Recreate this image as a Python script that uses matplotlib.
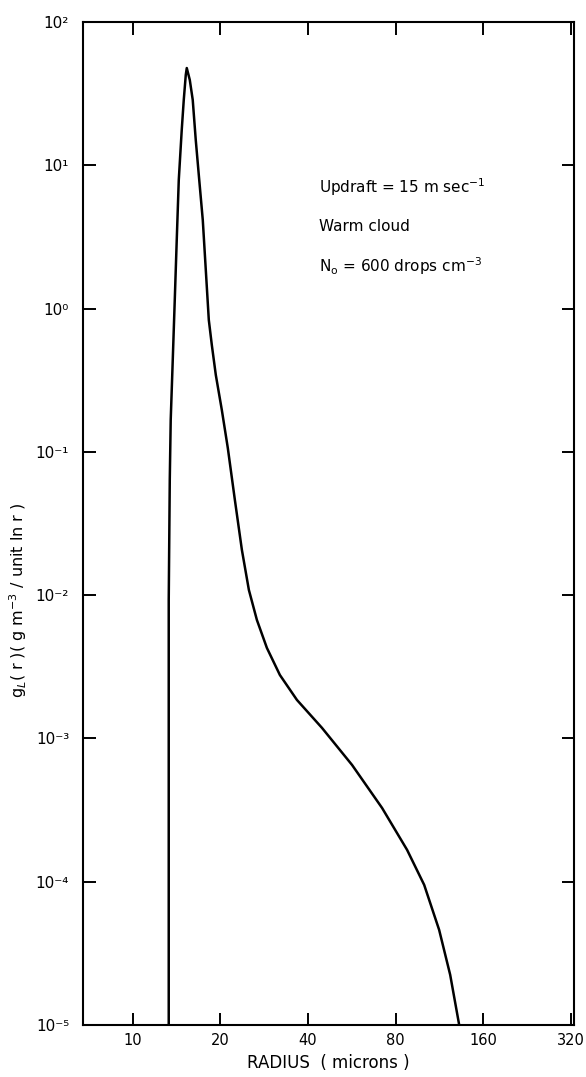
import numpy as np
import matplotlib
matplotlib.use('Agg')
import matplotlib.pyplot as plt
from matplotlib.ticker import FixedLocator, NullLocator

# Liquid water distribution g_L(r) (microns, g m^-3 per unit ln r)
radius = [13.30, 13.30, 13.41, 13.51, 13.73, 13.95, 14.17, 14.40, 14.74, 14.98,
          15.22, 15.34, 15.71, 16.08, 16.47, 16.87, 17.41, 17.83, 18.26, 18.70,
          19.30, 20.24, 21.22, 22.44, 23.72, 25.07, 26.71, 28.91, 32.04, 36.66,
          44.70, 56.69, 71.89, 87.62, 100.3, 112.9, 123.2, 132.3]
g_liquid = [1e-5, 9.26e-3, 0.0637, 0.167, 0.438, 1.148, 3.01, 7.90, 17.6, 28.6,
            42.7, 47.7, 39.4, 28.6, 15.0, 8.56, 4.15, 1.86, 0.833, 0.557,
            0.344, 0.196, 0.1065, 0.0462, 0.0207, 0.01087, 6.71e-3, 4.28e-3, 2.77e-3, 1.856e-3,
            1.184e-3, 6.53e-4, 3.27e-4, 1.667e-4, 9.50e-5, 4.61e-5, 2.24e-5, 1e-5]

x_ticks = [10, 20, 40, 80, 160, 320]
x_ticklabels = ['10', '20', '40', '80', '160', '320']
y_ticks = [1e-5, 1e-4, 1e-3, 1e-2, 1e-1, 1e0, 1e1, 1e2]
y_ticklabels = ['10⁻⁵', '10⁻⁴', '10⁻³', '10⁻²', '10⁻¹', '10⁰', '10¹', '10²']

notes = [r'Updraft = 15 m sec$^{-1}$',
         'Warm cloud',
         r'N$_{\mathrm{o}}$ = 600 drops cm$^{-3}$']

plt.rcParams['font.family'] = ['DejaVu Sans']
plt.rcParams['mathtext.fontset'] = 'dejavusans'

fig = plt.figure(figsize=(5.86, 10.77), dpi=100)
ax = fig.add_axes([0.1416, 0.0483, 0.8379, 0.9313])

ax.plot(radius, g_liquid, color='black', linewidth=1.8,
        solid_joinstyle='round', solid_capstyle='round')

ax.set_xscale('log')
ax.set_yscale('log')
ax.set_xlim(6.75, 328)
ax.set_ylim(1e-5, 1e2)

ax.xaxis.set_major_locator(FixedLocator(x_ticks))
ax.xaxis.set_minor_locator(NullLocator())
ax.set_xticklabels(x_ticklabels)
ax.yaxis.set_major_locator(FixedLocator(y_ticks))
ax.yaxis.set_minor_locator(NullLocator())
ax.set_yticklabels(y_ticklabels, fontsize=11)

ax.tick_params(axis='both', which='major', direction='in', length=9, width=1.4,
               top=True, right=True)
ax.tick_params(axis='x', pad=6, labelsize=10.5)
ax.tick_params(axis='y', pad=10)
for spine in ax.spines.values():
    spine.set_linewidth(1.5)

ax.set_xlabel('RADIUS  ( microns )', fontsize=12, labelpad=4)
fig.text(0.031, 1 - 600 / 1077,
         r'g$_L$( r )( g m$^{-3}$ / unit ln r )',
         rotation=90, ha='center', va='center', fontsize=11.5)

for i, note in enumerate(notes):
    ax.text(0.48, 0.835 - i * 0.039, note, transform=ax.transAxes,
            fontsize=11, ha='left', va='center')

fig.savefig('out.png', dpi=100)
